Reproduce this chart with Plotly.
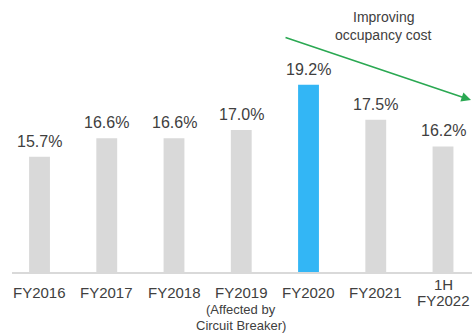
import plotly.graph_objects as go

categories = ["FY2016", "FY2017", "FY2018", "FY2019", "FY2020", "FY2021", "1H FY2022"]
tick_labels = ["FY2016", "FY2017", "FY2018", "FY2019", "FY2020", "FY2021", "1H<br>FY2022"]
values = [15.7, 16.6, 16.6, 17.0, 19.2, 17.5, 16.2]
value_labels = ["15.7%", "16.6%", "16.6%", "17.0%", "19.2%", "17.5%", "16.2%"]
note_category = "FY2019"
note_lines = ["(Affected by", "Circuit Breaker)"]
trend_lines = ["Improving", "occupancy cost"]

GRAY = "#d9d9d9"
BLUE = "#33b6f5"
GREEN = "#2aa852"
TXT = "#404040"
FONT = "Arial, Liberation Sans, sans-serif"

colors = [BLUE if c == "FY2020" else GRAY for c in categories]

fig = go.Figure(go.Bar(
    x=categories, y=values, marker=dict(color=colors, line=dict(width=0)),
    width=0.31, hoverinfo="skip",
))

annotations = []
for c, v, t in zip(categories, values, value_labels):
    annotations.append(dict(x=c, y=v, xref="x", yref="y", text=t, showarrow=False,
                            xanchor="center", yanchor="middle", yshift=15.5,
                            font=dict(family=FONT, size=16, color=TXT)))
# category labels, vertically centred around 20px below the axis, 16px line pitch
for c, t in zip(categories, tick_labels):
    lines = t.split("<br>")
    n = len(lines)
    for i, ln in enumerate(lines):
        off = 20 + (i - (n - 1) / 2) * 16
        annotations.append(dict(x=c, y=0, xref="x", yref="paper", text=ln, showarrow=False,
                                xanchor="center", yanchor="middle", yshift=-off,
                                font=dict(family=FONT, size=15, color=TXT)))
for i, ln in enumerate(note_lines):
    annotations.append(dict(x=note_category, y=0, xref="x", yref="paper", text=ln,
                            showarrow=False, xanchor="center", yanchor="middle",
                            yshift=-(37 + 16 * i),
                            font=dict(family=FONT, size=13, color=TXT)))
for i, ln in enumerate(trend_lines):
    annotations.append(dict(x=383.5 / 472, y=1 - (17 + 18 * i) / 272, xref="paper",
                            yref="paper", text=ln, showarrow=False,
                            xanchor="center", yanchor="middle",
                            font=dict(family=FONT, size=14, color=TXT)))
# trend arrow (tail near FY2020 top, tip beyond 1H FY2022)
annotations.append(dict(x=6.416, y=18.46, xref="x", yref="y",
                        ax=3.636, ay=21.52, axref="x", ayref="y",
                        text="", showarrow=True, arrowhead=2, arrowsize=1.2,
                        arrowwidth=1.6, arrowcolor=GREEN))

fig.update_layout(
    width=472, height=335,
    margin=dict(l=0, r=0, t=0, b=63),
    paper_bgcolor="white", plot_bgcolor="white",
    showlegend=False,
    annotations=annotations,
    xaxis=dict(domain=[12 / 472, 1], range=[-0.409, 6.431], showticklabels=False,
               ticks="", showline=True, linecolor=GRAY, linewidth=1.5,
               showgrid=False, zeroline=False, fixedrange=True),
    yaxis=dict(range=[10.1, 23.32], visible=False, showgrid=False, fixedrange=True),
)

fig.write_html("out.html", config={"displayModeBar": False})
